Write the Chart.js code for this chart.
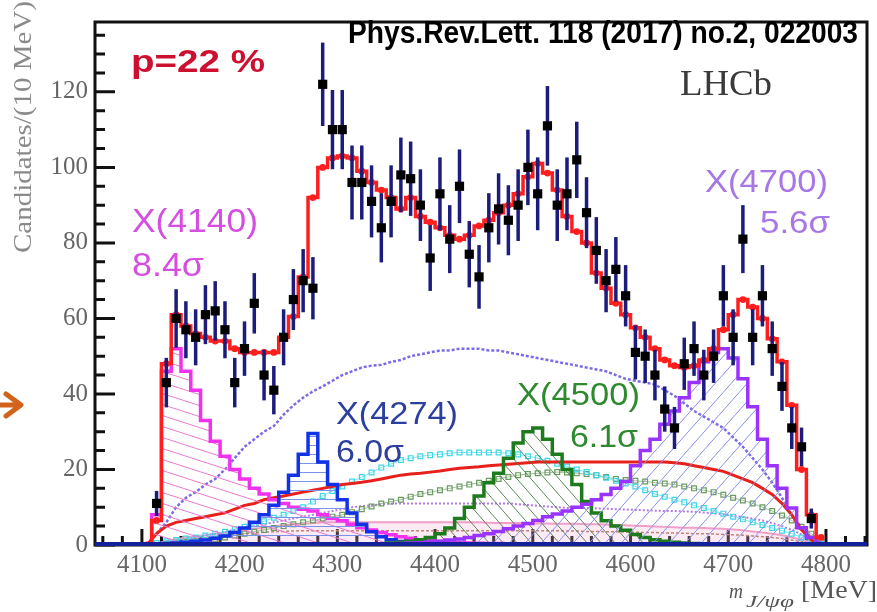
<!DOCTYPE html>
<html>
<head>
<meta charset="utf-8">
<script src="https://cdn.jsdelivr.net/npm/chart.js@4.4.1/dist/chart.umd.min.js"></script>
<style>
  html, body { margin: 0; padding: 0; background: #fff; }
  #wrap { width: 877px; height: 612px; }
</style>
</head>
<body>
<div id="wrap"><canvas id="c" width="877" height="612"></canvas></div>
<script>
// bin centres, m(J/psi phi) in MeV, 10 MeV bins
const massBins = [4105,4115,4125,4135,4145,4155,4165,4175,4185,4195,
  4205,4215,4225,4235,4245,4255,4265,4275,4285,4295,
  4305,4315,4325,4335,4345,4355,4365,4375,4385,4395,
  4405,4415,4425,4435,4445,4455,4465,4475,4485,4495,
  4505,4515,4525,4535,4545,4555,4565,4575,4585,4595,
  4605,4615,4625,4635,4645,4655,4665,4675,4685,4695,
  4705,4715,4725,4735,4745,4755,4765,4775,4785,4795];

const candidates = [null,11,43,60,57,55,61,62,57,43,
  52,64,45,41,55,65,70,68,122,110,
  110,96,96,91,84,91,98,97,90,76,
  93,81,95,77,71,84,89,86,90,100,
  93,111,90,93,102,88,78,70,73,66,
  51,50,45,36,31,48,52,45,50,66,
  55,81,55,66,52,42,31,26,7,null];

const totalFit = [0,6.5,48,61,58,56,55,54,54,52,
  51,51,51,51,55,60.5,71,92,100,102.5,
  103,102.5,99,96,94,92,89,92,87,85.5,
  84,82,81,82,84.5,86,88,90,93,97.5,
  101,98.5,94,87,83,80,72,68,64,61,
  57.5,55,52,49,47.5,47,47.5,49,52,57,
  61,65,63,60,54.6,48.5,37,20,8,2];

const x4140 = [0,8,46,52,46,41,33,27.5,23.5,20,
  17.5,15,13.5,12,11,10,9.5,9,8,7,
  6.4,5.5,4.6,4,3.3,2.7,2.2,1.8,1.4,1.1,
  0.9,0.7,0.6,0.5,0.45,0.4,0.4,0.35,0.35,0.3,
  0.3,0.3,0.3,0.3,0.3,0.3,0.3,0.3,0.3,0.3,
  0.3,0.3,0.3,0.3,0.3,0.3,0.3,0.3,0.3,0.3,
  0.3,0.3,0.3,0.3,0.3,0.3,0.3,0.3,0.3,0];

const x4274 = [0.2,0.3,0.4,0.5,0.7,1,1.3,1.8,2.4,3.3,
  4.5,6,8,10.5,14,18.5,24,29.5,22,16,
  12,8.5,5.5,3.5,2.2,1.4,0.9,0.6,0.4,0.3,
  0.3,0.3,0.3,0.3,0.3,0.3,0.3,0.3,0.3,0.3,
  0.3,0.3,0.3,0.3,0.3,0.3,0.3,0.3,0.3,0.3,
  0.3,0.3,0.3,0.3,0.3,0.3,0.3,0.3,0.3,0.3,
  0.3,0.3,0.3,0.3,0.3,0.3,0.3,0.3,0.3,0.3];

const x4500 = [null,null,null,null,null,null,null,null,null,null,
  null,null,null,null,null,null,null,null,null,null,
  null,null,null,0.2,0.35,0.5,0.7,1,1.4,2,
  3,4.5,7,10,13,16.5,19,23,27,30,
  31,28,24,20,16,11.5,8.5,6.4,5,3.9,
  2.8,2,1.4,1,0.7,0.5,0.4,0.3,0.2,0.2,
  0.2,0.2,0.2,0.2,0.2,0.2,0.2,0.2,0.2,0.2];

const x4700 = [null,null,null,null,null,null,null,null,null,null,
  null,null,null,null,null,null,null,null,null,null,
  0.1,0.1,0.15,0.2,0.25,0.3,0.4,0.5,0.6,0.8,
  1,1.3,1.6,2,2.5,3,3.6,4.3,5,5.7,
  6.5,7.5,8.2,9,10,10.8,12,13.4,15,16.8,
  21,25,28,32,35.5,39,43,48.5,51,52,
  49.5,44,36.6,28,21,15,9.8,4.6,2,0.5];

const broadBkg = [0,3,6,10,12.5,14,16,17.5,20,23,
  26,28,30,31.5,34.5,37,39,40.7,42,43.5,
  45,46,47,47.5,47.7,48.5,49,50,50.5,51,
  51.5,51.5,52,52,52,51.5,51.5,51,50.5,50,
  49.5,49,48.5,48,47.5,47,46.5,46,45,44,
  43.5,43,42.5,41,39.5,37.5,35.5,34,32.5,31,
  28.5,26,23,20,16.5,12.5,8,4.5,2,0.5];

const nonRes = [0,3,5,6,6.5,7,7.5,8,8.5,9.5,
  10.5,11,12,12.5,13,13.5,14,14.5,15,15.5,
  16,16.3,16.6,17,17.5,18,18.5,18.8,19,19.3,
  19.6,20,20.3,20.5,20.7,21,21.2,21.4,21.6,21.8,
  22,22,22,22,22,22,22,22,22,22,
  22,22,22,22,21.8,21.5,21,20.5,20,19.5,
  18.5,17.5,16.5,15,13.4,11,8,4,1.3,0];

const cyanComp = [0,0.5,1,1.3,1.7,2,2.5,3,3.5,4.2,
  4.8,5.5,6.3,7.2,8,9,10,11.5,13,14.3,
  15.5,16.8,18,19.2,20.5,21.5,22.5,23,23.5,23.8,
  24,24.3,24.5,24.5,24.5,24.5,24.5,24.3,24,23.5,
  23,22.3,21.5,20.8,20,19.3,18.5,17.8,17,16.3,
  15.5,14.5,13.5,12.8,12,11.3,10.5,9.8,9,8.3,
  7.5,6.8,6,5.3,4.5,3.8,3,2,1,0.3];

const greenComp = [0,0,0.3,0.6,0.8,1,1.3,1.6,2,2.5,
  3,3.5,4,4.5,5,5.5,6,6.5,7,7.5,
  8,8.7,9.5,10.2,11,11.5,12,12.8,13.5,14,
  14.5,15,15.5,16,16.5,17,17.5,18,18.5,18.8,
  19,19.2,19.3,19.2,19,18.8,18.5,18,17.5,17.2,
  17,16.8,16.5,16.3,16,15.5,15,14.5,14,13.3,
  12.5,11.8,11,10,9,7.8,6.5,4.8,3,1];

const violetComp = [0,0,0.5,1,1.5,2,2.5,3,3.5,4,
  4.5,5,5.5,6,6.5,7,7.5,8,8.5,9,
  9.5,10,10.3,10.5,10.8,11,11,11,11,11,
  11,11,11,11,11,11,11,11,10.8,10.6,
  10.4,10.2,10,9.8,9.8,9.8,9.7,9.6,9.5,9.4,
  9.3,9.2,9.1,9,9,8.9,8.8,8.6,8.4,8.1,
  7.8,7.4,7,6.5,5.8,5,4,2.8,1.5,0.4];

const pinkComp = [0,0.5,1,1.5,2,2.3,2.6,3,3.3,3.6,
  4,4.3,4.6,5,5.2,5.4,5.6,5.8,6,6,
  6,6,6,6,6,6,6,6,6,6,
  6,6,6,6,6,5.9,5.8,5.8,5.8,5.7,
  5.7,5.7,5.6,5.6,5.6,5.5,5.5,5.4,5.3,5.2,
  5.1,5,4.9,4.8,4.7,4.6,4.6,4.5,4.4,4.3,
  4.1,3.9,3.6,3.3,3,2.6,2,1.4,0.7,0.2];

const brownComp = [0,0.3,0.6,1,1.3,1.6,1.9,2.2,2.5,2.8,
  3,3.2,3.4,3.5,3.6,3.7,3.8,3.8,3.8,3.8,
  3.8,3.8,3.8,3.8,3.8,3.8,3.8,3.8,3.8,3.8,
  3.8,3.8,3.8,3.8,3.8,3.8,3.8,3.8,3.8,3.8,
  3.8,3.8,3.8,3.7,3.7,3.6,3.6,3.5,3.5,3.4,
  3.4,3.3,3.3,3.2,3.2,3.1,3,3,2.9,2.8,
  2.7,2.6,2.4,2.2,2,1.7,1.3,0.9,0.5,0.1];

const xTicks = [4100, 4200, 4300, 4400, 4500, 4600, 4700, 4800];
const yTicks = [0, 20, 40, 60, 80, 100, 120];

function pts(vals) {
  return massBins.map((m, i) => ({ x: m, y: vals[i] }));
}

// hatch fill patterns
function hatch(color, w, h, mode, lw) {
  const c = document.createElement('canvas');
  c.width = w; c.height = h;
  const g = c.getContext('2d');
  g.strokeStyle = color;
  g.lineWidth = lw || 1;
  g.beginPath();
  if (mode === 'flat') {
    g.moveTo(0, h / 2); g.lineTo(w, h / 2);
  } else {
    for (let k = -1; k <= 1; k++) {
      if (mode === 'down') { g.moveTo(0, k * h); g.lineTo(w, (k + 1) * h); }
      else { g.moveTo(0, (k + 1) * h); g.lineTo(w, k * h); }
    }
  }
  g.stroke();
  return g.createPattern(c, 'repeat');
}

const serif = "'Liberation Serif', 'DejaVu Serif', serif";
const sans = "'Liberation Sans', Arial, sans-serif";

function fitText(ctx, txt, x, yBase, font, color, w) {
  ctx.save();
  ctx.font = font;
  ctx.fillStyle = color;
  ctx.textAlign = 'left';
  ctx.textBaseline = 'alphabetic';
  const m = ctx.measureText(txt).width;
  const s = w ? w / m : 1;
  ctx.translate(x, yBase);
  ctx.scale(s, 1);
  ctx.fillText(txt, 0, 0);
  ctx.restore();
}

const errorBars = {
  id: 'errorBars',
  beforeDatasetDraw(chart, args) {
    if (args.index !== 0) return;
    const ctx = chart.ctx, ys = chart.scales.y;
    const meta = chart.getDatasetMeta(0);
    ctx.save();
    ctx.strokeStyle = '#1c1c7c';
    ctx.lineWidth = 3.5;
    meta.data.forEach((p, i) => {
      const n = candidates[i];
      if (n == null) return;
      const e = Math.sqrt(n);
      ctx.beginPath();
      ctx.moveTo(p.x, ys.getPixelForValue(n + e));
      ctx.lineTo(p.x, ys.getPixelForValue(Math.max(0, n - e)));
      ctx.stroke();
    });
    ctx.restore();
  }
};

const frame = {
  id: 'frame',
  beforeDatasetsDraw(chart) {
    const { ctx, chartArea: a, scales } = chart;
    ctx.save();
    ctx.strokeStyle = '#111';
    ctx.lineWidth = 3;
    ctx.strokeRect(a.left, a.top, a.right - a.left, a.bottom - a.top);
    ctx.beginPath();
    for (let v = 0; v <= 135; v += 5) {
      const y = scales.y.getPixelForValue(v);
      const len = v % 20 === 0 ? 20 : 10;
      ctx.moveTo(a.left, y); ctx.lineTo(a.left + len, y);
    }
    for (let v = 4060; v <= 4840; v += 20) {
      const x = scales.x.getPixelForValue(v);
      const len = v % 100 === 0 ? 16 : 9;
      ctx.moveTo(x, a.bottom); ctx.lineTo(x, a.bottom - len);
    }
    ctx.stroke();
    ctx.restore();
  },
  afterDatasetsDraw(chart) {
    const { ctx, chartArea: a } = chart;
    // thick navy baseline along the x axis
    ctx.save();
    ctx.strokeStyle = '#14209a';
    ctx.lineWidth = 4;
    ctx.beginPath();
    ctx.moveTo(a.left, a.bottom - 1);
    ctx.lineTo(a.right, a.bottom - 1);
    ctx.stroke();
    ctx.restore();
  },
  afterDraw(chart) {
    const ctx = chart.ctx;
    // y title
    ctx.save();
    ctx.translate(31, 253);
    ctx.rotate(-Math.PI / 2);
    fitText(ctx, 'Candidates/(10 MeV)', 0, 0, '26px ' + serif, '#8a8a8a', 252);
    ctx.restore();
    // x title
    fitText(ctx, 'm', 729, 598, 'italic 22px ' + serif, '#555', 14);
    fitText(ctx, 'J/ψφ', 746, 607, 'italic 16px ' + serif, '#555', 48);
    fitText(ctx, '[MeV]', 801, 598, '26px ' + serif, '#555', 76);

    fitText(ctx, 'p=22 %', 131, 72, 'bold 31px ' + sans, '#cc1030', 134);
    fitText(ctx, 'Phys.Rev.Lett. 118 (2017) no.2, 022003', 348, 43, 'bold 31px ' + sans, '#000', 510);
    fitText(ctx, 'LHCb', 680, 95, '35px ' + serif, '#3a3a3a', 92);

    fitText(ctx, 'X(4140)', 132, 232, '34px ' + sans, '#d44ee0', 126);
    fitText(ctx, '8.4σ', 132, 276, '34px ' + sans, '#d44ee0', 72);
    fitText(ctx, 'X(4274)', 336, 424, '32px ' + sans, '#2c3f9e', 122);
    fitText(ctx, '6.0σ', 336, 462, '32px ' + sans, '#2c3f9e', 68);
    fitText(ctx, 'X(4500)', 517, 405, '32px ' + sans, '#2f8a2f', 123);
    fitText(ctx, '6.1σ', 570, 447, '32px ' + sans, '#2f8a2f', 68);
    fitText(ctx, 'X(4700)', 705, 192, '32px ' + sans, '#a777e6', 123);
    fitText(ctx, '5.6σ', 760, 233, '32px ' + sans, '#a777e6', 70);

    // orange arrow at left edge
    ctx.save();
    ctx.strokeStyle = '#d2621c';
    ctx.lineWidth = 5;
    ctx.lineCap = 'round';
    ctx.lineJoin = 'round';
    ctx.beginPath();
    ctx.moveTo(0, 405); ctx.lineTo(20, 405);
    ctx.moveTo(6, 394); ctx.lineTo(21, 405); ctx.lineTo(6, 416);
    ctx.stroke();
    ctx.restore();
  }
};

const stepLine = (vals, color, width, fill, order) => ({
  data: pts(vals),
  borderColor: color,
  borderWidth: width,
  backgroundColor: fill || 'rgba(0,0,0,0)',
  fill: fill ? 'origin' : false,
  stepped: 'middle',
  pointRadius: 0,
  order: order
});

const smoothLine = (vals, color, width, dash, order) => ({
  data: pts(vals),
  borderColor: color,
  borderWidth: width,
  borderDash: dash || [],
  fill: false,
  pointRadius: 0,
  order: order
});

new Chart(document.getElementById('c'), {
  type: 'line',
  data: {
    datasets: [
      {
        label: 'data',
        data: pts(candidates),
        showLine: false,
        pointStyle: 'rect',
        pointRadius: 6.5,
        backgroundColor: '#000',
        borderColor: '#000',
        borderWidth: 0,
        order: 0
      },
      {
        label: 'total fit',
        data: pts(totalFit),
        stepped: 'middle',
        borderColor: '#ff1e1e',
        borderWidth: 3.5,
        pointRadius: 3.4,
        pointBackgroundColor: '#ff1e1e',
        pointBorderWidth: 0,
        fill: false,
        order: 1
      },
      stepLine(x4700, '#9a33ff', 3.5, hatch('#8a90ee', 16, 18, 'up', 1), 2),
      stepLine(x4500, '#1d7a1d', 3.5, hatch('#4a7a4a', 14, 16, 'down', 0.9), 3),
      stepLine(x4274, '#1232e6', 3.5, hatch('#7a92e8', 8, 9, 'flat', 1), 4),
      stepLine(x4140, '#f032ee', 3.5, hatch('#ea7ad0', 34, 11, 'down', 1), 5),
      smoothLine(nonRes, '#e8201c', 3, null, 6),
      smoothLine(broadBkg, '#7a6ce6', 2.5, [3, 2], 7),
      {
        data: pts(cyanComp),
        borderColor: 'rgba(70,220,240,0.7)',
        borderWidth: 1,
        pointStyle: 'rect',
        pointRadius: 3.4,
        pointBorderColor: '#3fd6e8',
        pointBackgroundColor: 'rgba(0,0,0,0)',
        pointBorderWidth: 1.2,
        fill: false,
        order: 8
      },
      {
        data: pts(greenComp),
        borderColor: 'rgba(100,150,90,0.6)',
        borderWidth: 1,
        pointStyle: 'rect',
        pointRadius: 3.4,
        pointBorderColor: '#6a9a60',
        pointBackgroundColor: 'rgba(0,0,0,0)',
        pointBorderWidth: 1.2,
        fill: false,
        order: 9
      },
      smoothLine(violetComp, '#b47ae6', 2, [2, 2], 10),
      {
        data: pts(pinkComp),
        borderColor: '#f0a0c8',
        borderWidth: 2,
        backgroundColor: 'rgba(245,170,210,0.25)',
        fill: 'origin',
        pointRadius: 0,
        order: 11
      },
      smoothLine(brownComp, '#b07a5a', 1.5, [3, 2], 12)
    ]
  },
  options: {
    responsive: false,
    animation: false,
    layout: { padding: { left: 0, right: 10, top: 6, bottom: 0 } },
    plugins: {
      legend: { display: false },
      tooltip: { enabled: false }
    },
    scales: {
      x: {
        type: 'linear',
        min: 4052,
        max: 4842,
        afterBuildTicks: (s) => { s.ticks = xTicks.map(v => ({ value: v })); },
        afterFit: (s) => { s.height = 67; },
        ticks: {
          font: { family: serif, size: 25 },
          color: '#666',
          padding: 5,
          maxRotation: 0,
          autoSkip: false,
          callback: (v) => String(v)
        },
        grid: { display: false, drawTicks: false, tickLength: 0 },
        border: { display: false }
      },
      y: {
        type: 'linear',
        min: 0,
        max: 138.5,
        afterBuildTicks: (s) => { s.ticks = yTicks.map(v => ({ value: v })); },
        afterFit: (s) => { s.width = 95; },
        ticks: {
          font: { family: serif, size: 25 },
          color: '#666',
          padding: 7,
          callback: (v) => String(v)
        },
        grid: { display: false, drawTicks: false, tickLength: 0 },
        border: { display: false }
      }
    }
  },
  plugins: [errorBars, frame]
});
</script>
</body>
</html>
